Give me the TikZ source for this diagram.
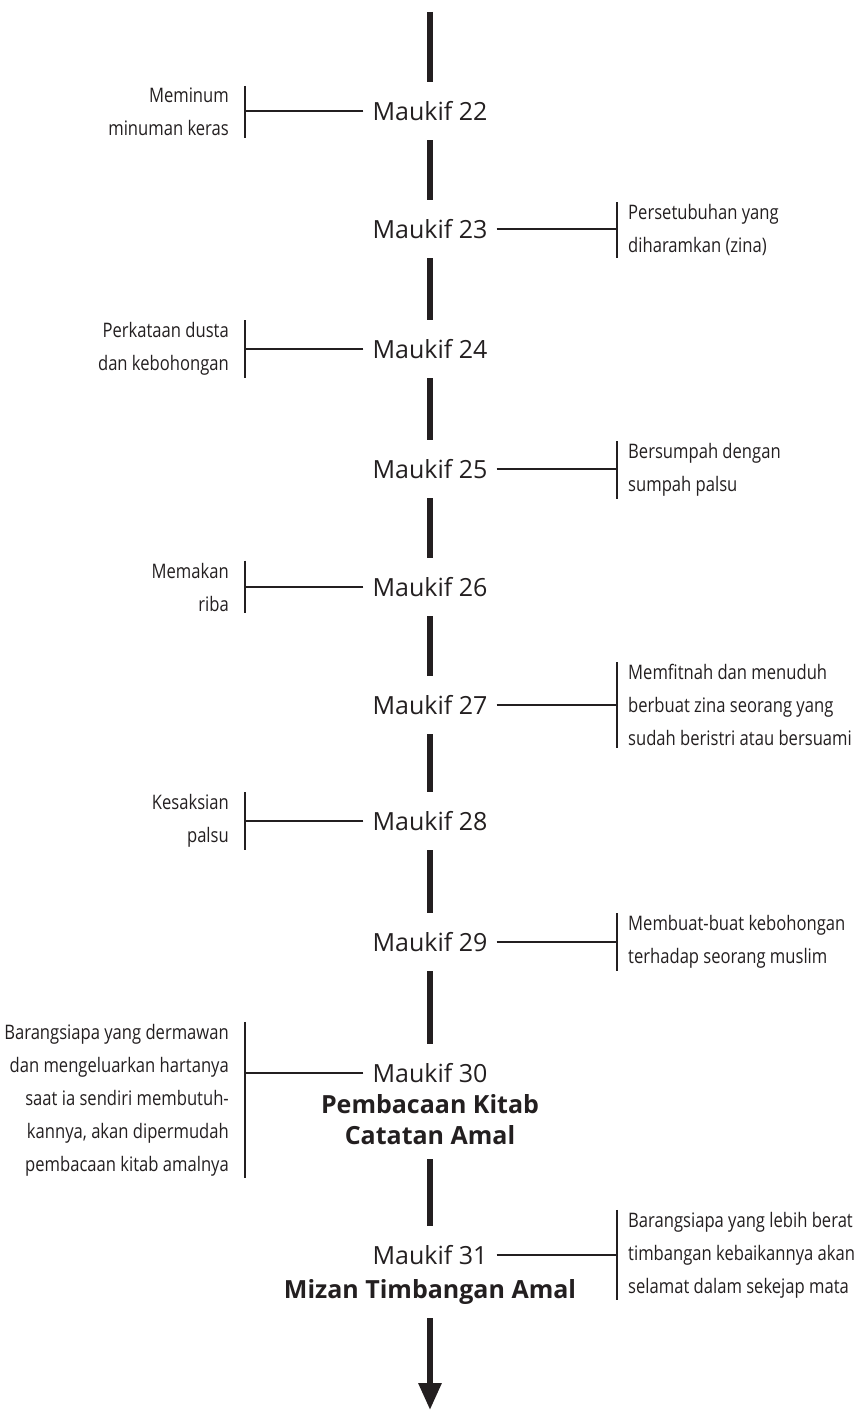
\documentclass[tikz,border=0pt]{standalone}
\usepackage{fontspec}
\setmainfont{Open Sans}
\newfontfamily\catfont[FakeStretch=0.83]{Open Sans}
\usetikzlibrary{arrows.meta, calc}
\definecolor{tinta}{HTML}{231F20}

\begin{document}
\begin{tikzpicture}[x=1pt, y=-1pt,
    maukif/.style={font=\fontsize{25}{30}\selectfont, text=tinta, minimum height=58pt, inner xsep=9pt},
    judul/.style={font=\bfseries\fontsize{25}{31}\selectfont, text=tinta, align=center, inner ysep=14pt},
    catkiri/.style={font=\catfont\fontsize{20}{33}\selectfont, text=tinta, align=right, anchor=east, inner xsep=0pt, inner ysep=2pt},
    catkanan/.style={catkiri, align=left, anchor=west},
    spine/.style={draw=tinta, line width=6pt},
    kurung/.style={draw=tinta, line width=2pt}]
    \useasboundingbox (0,0) rectangle (855,1410);

    % Maukif
    \coordinate (atas) at (430,12);
    \node[maukif] (m22) at (430,111) {Maukif 22};
    \node[maukif] (m23) at (430,229) {Maukif 23};
    \node[maukif] (m24) at (430,349) {Maukif 24};
    \node[maukif] (m25) at (430,469) {Maukif 25};
    \node[maukif] (m26) at (430,587) {Maukif 26};
    \node[maukif] (m27) at (430,705) {Maukif 27};
    \node[maukif] (m28) at (430,821) {Maukif 28};
    \node[maukif] (m29) at (430,942) {Maukif 29};
    \node[maukif] (m30) at (430,1073) {Maukif 30};
    \node[judul] (j30) at (430,1120) {Pembacaan Kitab\\Catatan Amal};
    \node[maukif] (m31) at (430,1255) {Maukif 31};
    \node[judul, anchor=base] (j31) at (430,1298) {Mizan Timbangan Amal};
    \coordinate (bawah) at (430,1410);

    % Garis tengah
    \draw[spine] (atas) -- (m22);
    \draw[spine] (m22) -- (m23);
    \draw[spine] (m23) -- (m24);
    \draw[spine] (m24) -- (m25);
    \draw[spine] (m25) -- (m26);
    \draw[spine] (m26) -- (m27);
    \draw[spine] (m27) -- (m28);
    \draw[spine] (m28) -- (m29);
    \draw[spine] (m29) -- (m30);
    \draw[spine] (j30) -- (m31);
    \draw[spine, -{Triangle[width=22pt, length=27pt]}] (j31) -- (bawah); % panah ke bawah

    % Catatan kiri
    \node[catkiri] (c22) at (229,112) {Meminum\\minuman keras};
    \draw[kurung] ([xshift=16pt]c22.north east) -- ([xshift=16pt]c22.south east);
    \draw[kurung] (m22.west) -- ([xshift=16pt]m22.west -| c22.east);

    \node[catkiri] (c24) at (229,349) {Perkataan dusta\\dan kebohongan};
    \draw[kurung] ([xshift=16pt]c24.north east) -- ([xshift=16pt]c24.south east);
    \draw[kurung] (m24.west) -- ([xshift=16pt]m24.west -| c24.east);

    \node[catkiri] (c26) at (229,587) {Memakan\\riba};
    \draw[kurung] ([xshift=16pt]c26.north east) -- ([xshift=16pt]c26.south east);
    \draw[kurung] (m26.west) -- ([xshift=16pt]m26.west -| c26.east);

    \node[catkiri] (c28) at (229,821) {Kesaksian\\palsu};
    \draw[kurung] ([xshift=16pt]c28.north east) -- ([xshift=16pt]c28.south east);
    \draw[kurung] (m28.west) -- ([xshift=16pt]m28.west -| c28.east);

    \node[catkiri] (c30) at (229,1100) {Barangsiapa yang dermawan\\dan mengeluarkan hartanya\\saat ia sendiri membutuh-\\kannya, akan dipermudah\\pembacaan kitab amalnya};
    \draw[kurung] ([xshift=16pt]c30.north east) -- ([xshift=16pt]c30.south east);
    \draw[kurung] (m30.west) -- ([xshift=16pt]m30.west -| c30.east);

    % Catatan kanan
    \node[catkanan] (c23) at (628,230) {Persetubuhan yang\\diharamkan (zina)};
    \draw[kurung] ([xshift=-11pt]c23.north west) -- ([xshift=-11pt]c23.south west);
    \draw[kurung] (m23.east) -- ([xshift=-11pt]m23.east -| c23.west);

    \node[catkanan] (c25) at (628,470) {Bersumpah dengan\\sumpah palsu};
    \draw[kurung] ([xshift=-11pt]c25.north west) -- ([xshift=-11pt]c25.south west);
    \draw[kurung] (m25.east) -- ([xshift=-11pt]m25.east -| c25.west);

    \node[catkanan] (c27) at (628,705) {Memfitnah dan menuduh\\berbuat zina seorang yang\\sudah beristri atau bersuami};
    \draw[kurung] ([xshift=-11pt]c27.north west) -- ([xshift=-11pt]c27.south west);
    \draw[kurung] (m27.east) -- ([xshift=-11pt]m27.east -| c27.west);

    \node[catkanan] (c29) at (628,942) {Membuat-buat kebohongan\\terhadap seorang muslim};
    \draw[kurung] ([xshift=-11pt]c29.north west) -- ([xshift=-11pt]c29.south west);
    \draw[kurung] (m29.east) -- ([xshift=-11pt]m29.east -| c29.west);

    \node[catkanan] (c31) at (628,1255) {Barangsiapa yang lebih berat\\timbangan kebaikannya akan\\selamat dalam sekejap mata};
    \draw[kurung] ([xshift=-11pt]c31.north west) -- ([xshift=-11pt]c31.south west);
    \draw[kurung] (m31.east) -- ([xshift=-11pt]m31.east -| c31.west);
\end{tikzpicture}
\end{document}
